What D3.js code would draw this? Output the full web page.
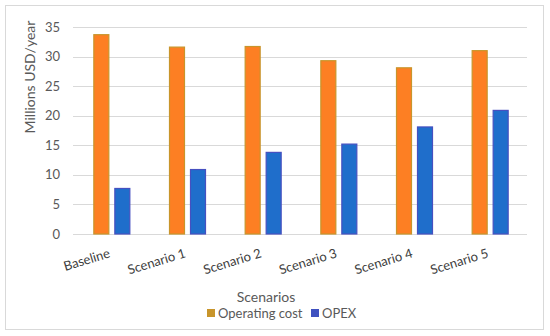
<!DOCTYPE html>
<html>
<head>
<meta charset="utf-8">
<script src="https://cdn.jsdelivr.net/npm/d3@7"></script>
<style>
  body { margin: 0; background: #fff; }
  text { font-family: Lato, "Liberation Sans", sans-serif; fill: #595959; }
</style>
</head>
<body>
<script>
// data
var scenarios = ["Baseline", "Scenario 1", "Scenario 2", "Scenario 3", "Scenario 4", "Scenario 5"];
var operatingCost = [33.7, 31.6, 31.7, 29.3, 28.1, 31.0];
var opex = [7.7, 10.9, 13.8, 15.2, 18.1, 20.9];
var seriesNames = ["Operating cost", "OPEX"];
var yTicks = [0, 5, 10, 15, 20, 25, 30, 35];

(function drawChart() {

var W = 550, H = 336;
// plot area (window.top is read-only, so keep these local)
var plotLeft = 73, plotRight = 527, plotTop = 27, plotBottom = 234;

var svg = d3.select("body").append("svg")
  .attr("width", W)
  .attr("height", H);

// outer border
svg.append("rect")
  .attr("x", 5.5).attr("y", 5.5)
  .attr("width", 538).attr("height", 324)
  .attr("fill", "#fff")
  .attr("stroke", "#d9d9d9");

var x = d3.scaleBand().domain(scenarios).range([plotLeft, plotRight]);
var y = d3.scaleLinear().domain([0, 35]).range([plotBottom, plotTop]);

// gridlines
svg.selectAll(".grid")
  .data(yTicks)
  .enter().append("line")
  .attr("x1", plotLeft).attr("x2", plotRight)
  .attr("y1", function (d) { return Math.round(y(d)) + 0.5; })
  .attr("y2", function (d) { return Math.round(y(d)) + 0.5; })
  .attr("stroke", "#d9d9d9");

// y tick labels
svg.selectAll(".ytick")
  .data(yTicks)
  .enter().append("text")
  .attr("x", 60)
  .attr("y", function (d) { return y(d) + 4.5; })
  .attr("text-anchor", "end")
  .style("font-size", "13px")
  .text(function (d) { return d; });

var barW = 16, gap = 5;
var groupW = barW * 2 + gap;

var data = scenarios.map(function (s, i) {
  return { name: s, vals: [operatingCost[i], opex[i]] };
});

var fills = ["#fd7f23", "#1f6ecb"];
var strokes = ["#c8952b", "#4650c0"];

var groups = svg.selectAll(".grp")
  .data(data)
  .enter().append("g")
  .attr("transform", function (d) {
    return "translate(" + (x(d.name) + x.bandwidth() / 2 - groupW / 2 + 1) + ",0)";
  });

groups.selectAll("rect")
  .data(function (d) { return d.vals; })
  .enter().append("rect")
  .attr("x", function (d, j) { return j * (barW + gap) + 0.5; })
  .attr("y", function (d) { return y(d); })
  .attr("width", barW - 1)
  .attr("height", function (d) { return plotBottom - y(d); })
  .attr("fill", function (d, j) { return fills[j]; })
  .attr("stroke", function (d, j) { return strokes[j]; })
  .attr("stroke-width", 1.2);

// x labels, rotated
svg.selectAll(".xlab")
  .data(scenarios)
  .enter().append("text")
  .attr("transform", function (d) {
    return "translate(" + (x(d) + x.bandwidth() / 2) + ",257) rotate(-17)";
  })
  .attr("text-anchor", "end")
  .style("font-size", "13px")
  .style("fill", "#404040")
  .text(function (d) { return d; });

// axis titles
svg.append("text")
  .attr("transform", "translate(35,77) rotate(-90)")
  .attr("text-anchor", "middle")
  .style("font-size", "14px")
  .text("Millions USD/year");

svg.append("text")
  .attr("x", 266).attr("y", 302)
  .attr("text-anchor", "middle")
  .style("font-size", "14px")
  .text("Scenarios");

// legend
var legendX = [207, 311];
var legend = svg.selectAll(".leg")
  .data(seriesNames)
  .enter().append("g")
  .attr("transform", function (d, i) { return "translate(" + legendX[i] + ",309)"; });

legend.append("rect")
  .attr("width", 8).attr("height", 8)
  .attr("fill", function (d, i) { return i === 0 ? "#c8952b" : "#3f51c0"; });

legend.append("text")
  .attr("x", 11).attr("y", 9)
  .style("font-size", "13px")
  .text(function (d) { return d; });

})();
</script>
</body>
</html>
